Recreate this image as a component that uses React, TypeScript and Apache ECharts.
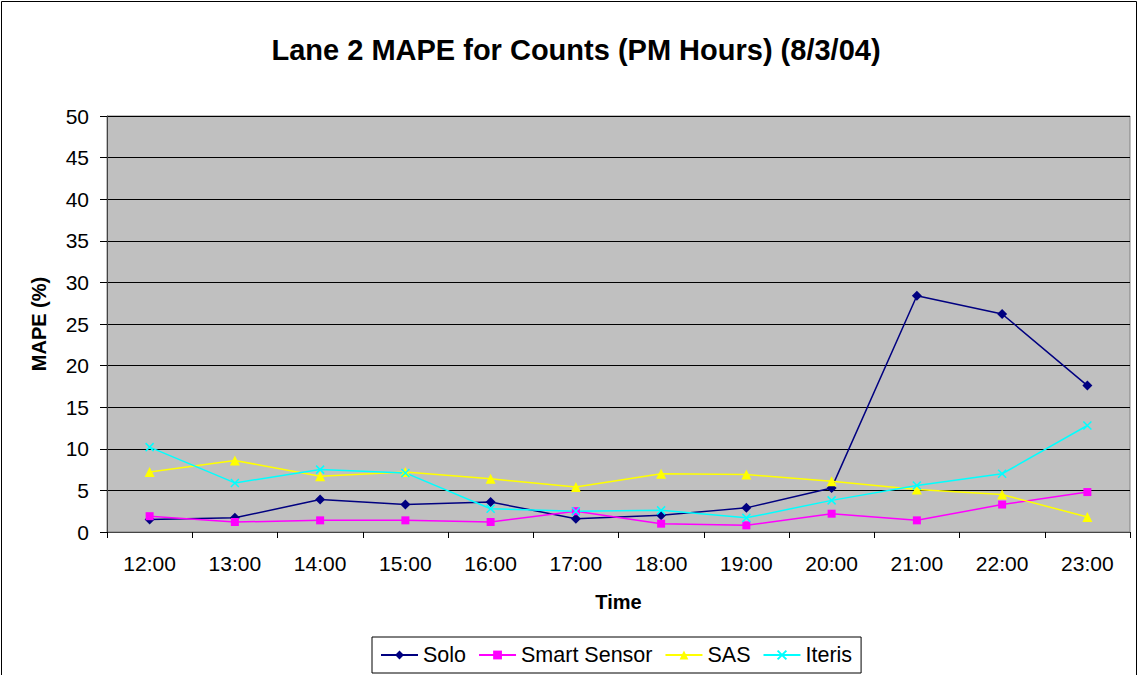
import React, { useEffect, useRef } from "react";
import * as echarts from "echarts";

const categories = ["12:00", "13:00", "14:00", "15:00", "16:00", "17:00", "18:00", "19:00", "20:00", "21:00", "22:00", "23:00"];
const solo = [1.5, 1.7, 3.9, 3.3, 3.6, 1.6, 2.0, 2.9, 5.3, 28.4, 26.2, 17.6];
const smartSensor = [1.9, 1.2, 1.4, 1.4, 1.2, 2.5, 1.0, 0.8, 2.2, 1.4, 3.3, 4.8];
const sas = [7.2, 8.6, 6.7, 7.2, 6.4, 5.4, 7.0, 6.9, 6.1, 5.1, 4.5, 1.8];
const iteris = [10.2, 5.9, 7.5, 7.1, 2.8, 2.5, 2.6, 1.7, 3.8, 5.6, 7.0, 12.8];

const FONT = "'Liberation Sans', Arial, sans-serif";
const CROSS = "path://M0,0L10,10M10,0L0,10";

export default function App() {
  const ref = useRef<HTMLDivElement>(null);
  useEffect(() => {
    if (!ref.current) return;
    const chart = echarts.init(ref.current, undefined, { renderer: "svg" });
    const mk = (name: string, data: number[], color: string, symbol: string, size: number, extra: any = {}) => ({
      name,
      type: "line",
      data,
      symbol,
      symbolSize: size,
      lineStyle: { color, width: 1.5 },
      itemStyle: { color, ...extra },
      emphasis: { disabled: true },
    });
    chart.setOption({
      animation: false,
      backgroundColor: "#fff",
      textStyle: { fontFamily: FONT },
      title: {
        text: "Lane 2 MAPE for Counts (PM Hours) (8/3/04)",
        left: 571,
        textAlign: "center",
        top: 30,
        textStyle: { fontFamily: FONT, fontSize: 29, fontWeight: "bold", color: "#000" },
      },
      graphic: [
        {
          type: "rect",
          shape: { x: 1.5, y: 1.5, width: 1135, height: 700 },
          style: { fill: "none", stroke: "#000", lineWidth: 1 },
          silent: true,
          z: 100,
        },
      ],
      legend: {
        left: 372,
        top: 637,
        orient: "horizontal",
        padding: [7, 9, 7, 8],
        itemGap: 12,
        itemWidth: 37,
        itemHeight: 11,
        borderColor: "#000",
        borderWidth: 1,
        textStyle: { fontFamily: FONT, fontSize: 21.5, color: "#000" },
        data: ["Solo", "Smart Sensor", "SAS", "Iteris"],
      },
      grid: {
        left: 107,
        top: 116,
        right: 8,
        bottom: 143,
        show: true,
        backgroundColor: "#C0C0C0",
        borderColor: "#808080",
        borderWidth: 1,
      },
      xAxis: {
        type: "category",
        data: categories,
        boundaryGap: true,
        name: "Time",
        nameLocation: "middle",
        nameGap: 60,
        nameTextStyle: { fontFamily: FONT, fontSize: 20, fontWeight: "bold", color: "#000" },
        axisLine: { lineStyle: { color: "#444", width: 1 } },
        axisTick: { show: true, length: 6, lineStyle: { color: "#000" } },
        axisLabel: { fontFamily: FONT, fontSize: 21, color: "#000", margin: 21 },
        splitLine: { show: false },
      },
      yAxis: {
        type: "value",
        min: 0,
        max: 50,
        interval: 5,
        name: "MAPE (%)",
        nameLocation: "middle",
        nameGap: 58,
        nameTextStyle: { fontFamily: FONT, fontSize: 20, fontWeight: "bold", color: "#000" },
        axisLine: { show: true, lineStyle: { color: "#444", width: 1 } },
        axisTick: { show: true, length: 7, lineStyle: { color: "#000" } },
        axisLabel: { fontFamily: FONT, fontSize: 21, color: "#000", margin: 18 },
        splitLine: { show: true, lineStyle: { color: "#000", width: 1 } },
      },
      series: [
        mk("Solo", solo, "#000080", "diamond", 10),
        mk("Smart Sensor", smartSensor, "#FF00FF", "rect", 8),
        mk("SAS", sas, "#FFFF00", "triangle", 10),
        mk("Iteris", iteris, "#00FFFF", CROSS, 8, { borderColor: "#00FFFF", borderWidth: 1.5 }),
      ],
    });
    return () => chart.dispose();
  }, []);
  return <div ref={ref} style={{ width: 1138, height: 675, position: "absolute", left: 0, top: 0 }} />;
}
